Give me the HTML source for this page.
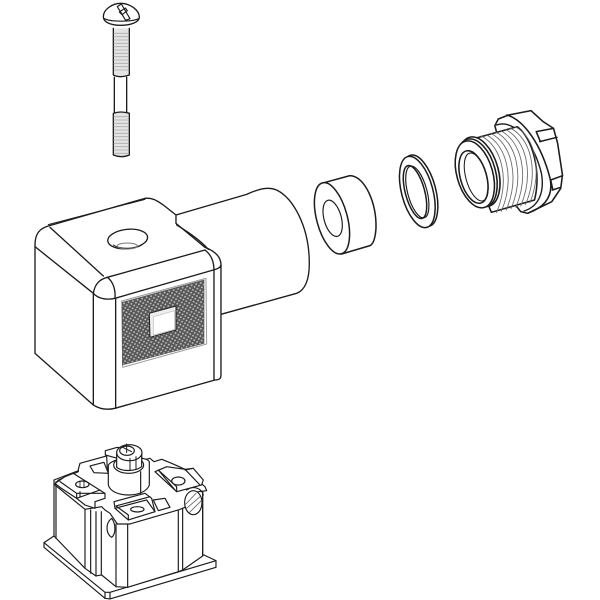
<!DOCTYPE html>
<html><head><meta charset="utf-8"><style>html,body{margin:0;padding:0;background:#fff}svg{display:block}</style></head><body>
<svg width="600" height="600" viewBox="0 0 600 600" xmlns="http://www.w3.org/2000/svg">
<defs>
<pattern id="h" width="14" height="14" patternUnits="userSpaceOnUse" patternTransform="rotate(-15)">
<rect width="14" height="14" fill="#555"/><circle cx="3.5" cy="3.5" r="2.9" fill="#bdbdbd"/><circle cx="10.5" cy="10.5" r="2.9" fill="#bdbdbd"/>
</pattern>
</defs>
<rect width="600" height="600" fill="#fff"/>
<g fill="none" stroke="#1c1c1c" stroke-linecap="round" stroke-linejoin="round">

<!-- screw -->
<g transform="translate(90,0) scale(.3333)" stroke-width="4">
<path d="M70 85V225Q90 235 118 225V85" fill="#e4e4e4" stroke-width="4"/>
<path d="M73 232V340M110 232V340" stroke-width="4"/>
<path d="M70 340Q90 332 118 340V465Q95 475 70 465Z" fill="#e4e4e4" stroke-width="4"/>
<path d="M72 100H116M72 110H116M72 120H116M72 130H116M72 140H116M72 150H116M72 160H116M72 170H116M72 180H116M72 190H116M72 200H116M72 210H116M72 350H116M72 360H116M72 370H116M72 380H116M72 390H116M72 400H116M72 410H116M72 420H116M72 430H116M72 440H116M72 450H116M72 460H116" stroke="#aaa" stroke-width="2.5"/>
<path d="M40 50C40 28 68 10 92 10C120 10 148 30 148 52C148 66 122 76 92 76C65 76 40 68 40 50Z" fill="#fff"/>
<path d="M44 56C60 66 125 66 146 56" stroke-width="3.5"/>
<path d="M82 20L94 12L120 56L107 61ZM88 36L106 24L112 32L96 44Z" fill="#fff" stroke-width="3.5"/>
</g>

<!-- cylinder + body -->
<g transform="translate(20,190) scale(.3333)" stroke-width="4">
<path d="M468 75L680 13C720 -5 745 -10 770 0C820 25 868 110 868 220C868 270 855 300 830 310L603 373" fill="#fff"/>
<path d="M45 165C45 130 60 115 85 108L375 25C400 22 415 35 430 45L468 75V100L555 172C590 185 605 205 603 230V555C603 568 595 570 585 570L285 655C255 662 235 655 220 645L45 490Z" fill="#fff"/>
<path d="M85 104L375 28" stroke-width="3"/>
<path d="M45 170L220 310C235 328 265 330 285 325L580 240C595 236 603 232 603 225"/>
<path d="M220 310C225 280 240 268 262 262C280 275 287 300 285 325"/>
<path d="M262 262L555 180C575 195 582 215 582 240"/>
<path d="M90 112L250 258"/>
<path d="M470 105C510 130 540 150 565 178"/>
<path d="M220 310V645M287 325V655M582 240V570"/>
<ellipse cx="323" cy="147" rx="60" ry="29" transform="rotate(-6 323 147)"/>
<path d="M280 165C300 178 345 178 365 165" stroke-width="3"/>
<ellipse cx="322" cy="168" rx="30" ry="9" stroke="#777" stroke-width="3"/>
<path d="M305 333L558 265L560 462L308 532Z" stroke="#999" stroke-width="3"/>
<path d="M307 337L552 270V460L307 525Z" fill="url(#h)" stroke="#555" stroke-width="2"/>
<path d="M388 370L468 348V420L390 442Z" fill="#eee" stroke="#222" stroke-width="3"/>
<path d="M400 380L464 362V418L400 435Z" fill="#fff" stroke="#bbb" stroke-width="2"/>
</g>

<!-- grommet, washer -->
<g transform="translate(300,100) scale(.3333)" stroke-width="4.5">
<path d="M65 250L150 227C195 228 230 310 228 385C226 415 220 432 210 437L125 462" fill="#fff"/>
<ellipse cx="96" cy="355" rx="46" ry="110" transform="rotate(-15 96 355)" fill="#fff"/>
<ellipse cx="98" cy="355" rx="26" ry="56" transform="rotate(-15 98 355)" stroke-width="3.5"/>
<ellipse cx="360" cy="272" rx="47" ry="110" transform="rotate(-15 360 272)" fill="#fff"/>
<ellipse cx="352" cy="276" rx="47" ry="110" transform="rotate(-15 352 276)" fill="#fff"/>
<ellipse cx="345" cy="276" rx="29" ry="82" transform="rotate(-15 345 276)"/>
<ellipse cx="352" cy="276" rx="29" ry="80" transform="rotate(-15 352 276)" stroke-width="3.5"/>
</g>

<!-- gland -->
<g transform="translate(450,105) scale(.345,.3333)" stroke-width="4.5">
<path d="M130 62L140 42L170 30L235 17L270 50L300 70L312 115L326 210L321 250L295 290L265 305L225 325L205 320L190 300Z" fill="#fff"/>
<path d="M165 30C215 45 265 120 290 220C300 270 280 305 225 325"/>
<path d="M135 60C190 40 245 120 265 205C275 265 255 305 215 318" stroke-width="4"/>
<path d="M250 80L300 70M260 110L310 97M250 80L262 110M292 225L326 212M297 255L321 247M292 225L298 255"/>
<path d="M45 108L195 65C240 100 265 200 245 285L120 322L70 200Z" fill="#fff"/>
<path d="M90 93C150 123 175 223 135 323M104 89C164 119 189 219 149 319M118 85C178 115 203 215 163 315M132 81C192 111 217 211 177 311M146 77C206 107 231 207 191 307M160 73C220 103 245 203 205 303M174 69C234 99 259 199 219 299M188 65C248 95 268 195 232 293" stroke="#666" stroke-width="2.5"/>
<ellipse cx="85" cy="200" rx="55" ry="107" transform="rotate(-15 85 200)" fill="#fff"/>
<ellipse cx="78" cy="204" rx="54" ry="105" transform="rotate(-15 78 204)" fill="#fff"/>
<ellipse cx="72" cy="208" rx="52" ry="103" transform="rotate(-15 72 208)" fill="#fff"/>
<ellipse cx="68" cy="216" rx="38" ry="81" transform="rotate(-15 68 216)" fill="#fff"/>
<ellipse cx="76" cy="216" rx="30" ry="74" transform="rotate(-15 76 216)" stroke-width="3"/>
</g>

<!-- terminal block -->
<g transform="translate(30,430) scale(.3333)" stroke-width="3.5">
<path d="M42 338L72 318L522 375L558 392V412L240 507L225 505L42 352Z" fill="#fff"/>
<path d="M42 338L225 487L240 487L558 392M225 487V505M240 487V507"/>
<path d="M72 150V318L165 415L198 438L215 435L258 470L293 472L445 425L458 420L518 378V175L400 120H150Z" fill="#fff"/>
<path d="M78 155V325M165 240V415M182 240V430M198 245V438M214 245V435M258 282V470M293 280V472M445 240V425M458 235V420M518 180V378"/>
<path d="M145 118L150 100L230 78L232 120L360 85L372 95L395 88L425 100L465 118L525 170L530 182L505 185L470 210L465 232L445 240L300 282L262 282L240 250L225 240L215 230L165 238L75 165L85 150L145 125Z" fill="#fff"/>
<path d="M180 108L222 97L235 130L192 128Z"/>
<ellipse cx="490" cy="218" rx="26" ry="36" fill="#fff"/>
<path d="M470 235L510 200M468 222L498 190M478 248L514 212" stroke="#666" stroke-width="2.5"/>
<path d="M470 180C490 165 515 175 520 195"/>
<path d="M75 160L105 140L130 130L225 190L225 205L195 215L195 235L165 225L140 205L90 172Z" fill="#fff"/>
<path d="M90 155L140 190L225 190M140 190V205M140 205L210 180M150 185L150 200"/>
<ellipse cx="157" cy="163" rx="20" ry="10"/>
<path d="M150 154L150 172M162 154L162 172" stroke-width="2.5"/>
<path d="M375 125L410 110L465 118L490 115L520 150L515 165L440 185L375 125Z" fill="#fff"/>
<path d="M385 120L435 180M465 118L510 165M440 185V170L385 120M490 115L465 120"/>
<ellipse cx="445" cy="153" rx="20" ry="12"/>
<path d="M252 215L345 190L365 205L375 245L295 270L255 235Z" fill="#fff"/>
<path d="M258 228L360 200M255 235L350 210L375 245M295 270L295 255L258 228"/>
<path d="M370 210L405 205L420 232L385 242Z" fill="#fff"/>
<ellipse cx="322" cy="238" rx="20" ry="8"/>
<path d="M235 105V165C245 205 345 205 358 165V95C345 75 250 80 235 105Z" fill="#fff"/>
<path d="M332 125V190"/>
<ellipse cx="296" cy="105" rx="45" ry="25" fill="#fff"/>
<path d="M226 62L262 52L335 72V90L262 85L226 75Z" fill="#fff"/>
<path d="M260 70V112C275 125 315 125 335 110V70Z" fill="#fff"/>
<ellipse cx="298" cy="68" rx="38" ry="24" fill="#fff"/>
<ellipse cx="291" cy="62" rx="22" ry="14" fill="#fff"/>
<path d="M290 42V68M278 52L305 65M300 85V122M318 80V118" stroke-width="3"/>
<path d="M245 265C225 280 228 312 245 322C258 312 258 282 245 265Z" fill="#fff"/>
</g>
</g>
</svg>
</body></html>
